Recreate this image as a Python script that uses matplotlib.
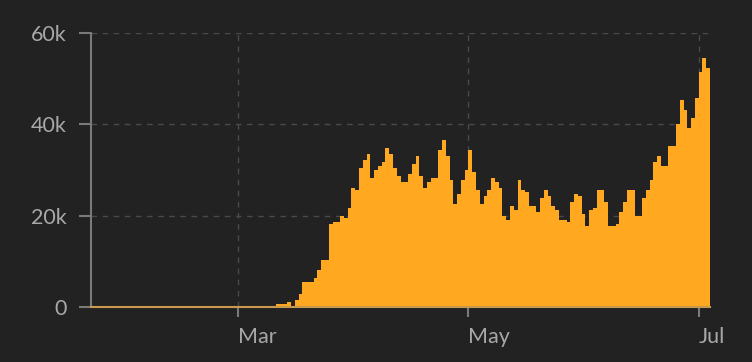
import pandas as pd
import matplotlib
matplotlib.use('Agg')
import matplotlib.pyplot as plt
from matplotlib.ticker import FuncFormatter
from matplotlib.transforms import ScaledTranslation
# ------------------------------ #

startDate = '2020-01-22'
endDate = '2020-07-04'

# daily new cases, in thousands, one value per day from Jan 22 to Jul 3
casesK = [0] * 49 + [
	0.66, 0.66, 0.66, 1.03, 0, 1.47, 2.8, 5.4, 5.4, 5.4,
	6.3, 8.1, 10.3, 10.3, 18.2, 18.6, 18.6, 19.9, 19.5, 21.7,
	26.1, 25.6, 30.5, 32.2, 33.5, 28.3, 30.0, 30.9, 31.8, 34.8,
	33.5, 30.5, 28.7, 27.4, 27.4, 29.1, 31.3, 33.1, 28.7, 26.1,
	27.4, 28.3, 28.3, 34.4, 36.6, 33.1, 27.8, 22.5, 24.7, 27.8,
	30.0, 34.4, 29.6, 25.6, 22.5, 24.3, 25.6, 28.3, 27.4, 26.1,
	19.9, 19.0, 22.1, 21.2, 27.8, 25.6, 25.2, 22.1, 22.1, 20.8,
	23.9, 25.6, 24.3, 22.1, 21.2, 19.0, 19.0, 18.6, 23.0, 24.7,
	24.3, 20.4, 17.7, 21.2, 21.7, 25.6, 25.6, 23.0, 17.7, 17.7,
	18.2, 20.8, 23.0, 25.6, 25.6, 19.9, 19.9, 23.9, 25.6, 27.8,
	31.8, 33.1, 30.9, 30.9, 35.3, 35.3, 40.1, 45.4, 43.2, 39.2,
	41.4, 45.8, 51.5, 54.6, 52.4,
]

xTickDates = ['2020-03-01', '2020-05-01', '2020-07-01']
xTickLabels = ['Mar', 'May', 'Jul']
yTicks = [0, 20000, 40000, 60000]
# ------------------------------ #

bgColor = '#222222'
barColor = '#ffa820'
axisColor = '#7a7a7a'
textColor = '#a8a8a8'
gridColor = '#4a4a4a'

plt.rcParams['font.family'] = ['Lato', 'DejaVu Sans']

days = pd.date_range(startDate, periods = len(casesK), freq = 'D')
xs = list(days) + [pd.Timestamp(endDate)]
ys = [v * 1000 for v in casesK] + [casesK[-1] * 1000]

fig = plt.figure(figsize = (7.52, 3.62), dpi = 100, facecolor = bgColor)
ax = fig.add_axes([91 / 752, 55 / 362, 619 / 752, 274 / 362])
ax.set_facecolor(bgColor)

ax.fill_between(xs, ys, step = 'post', color = barColor, linewidth = 0, zorder = 2)

ax.set_xlim(pd.Timestamp(startDate), pd.Timestamp(endDate))
ax.set_ylim(0, 60000)

ax.set_yticks(yTicks)
ax.yaxis.set_major_formatter(FuncFormatter(lambda v, p: '0' if v == 0 else f'{int(v / 1000)}k'))

ax.set_xticks([pd.Timestamp(d) for d in xTickDates])
ax.set_xticklabels(xTickLabels, ha = 'left')
offset = ScaledTranslation(6 / 100, 0, fig.dpi_scale_trans)
for lbl in ax.get_xticklabels():
	lbl.set_transform(lbl.get_transform() + offset)

ax.grid(True, color = gridColor, linestyle = (0, (4, 4)), linewidth = 1, zorder = 0)
ax.set_axisbelow(True)

for side in ['top', 'right']:
	ax.spines[side].set_visible(False)
ax.spines['left'].set_color(axisColor)
ax.spines['left'].set_linewidth(1.5)
ax.spines['bottom'].set_color('#c99a4e')
ax.spines['bottom'].set_linewidth(1.5)
ax.spines['bottom'].set_zorder(3)

ax.tick_params(axis = 'y', length = 8.6, width = 1.5, color = axisColor, pad = 9,
	labelcolor = textColor, labelsize = 15.5)
ax.tick_params(axis = 'x', length = 7.2, width = 1.5, color = axisColor, pad = 7.5,
	labelcolor = textColor, labelsize = 15.5)

fig.savefig('out.png', dpi = 100, facecolor = bgColor)
